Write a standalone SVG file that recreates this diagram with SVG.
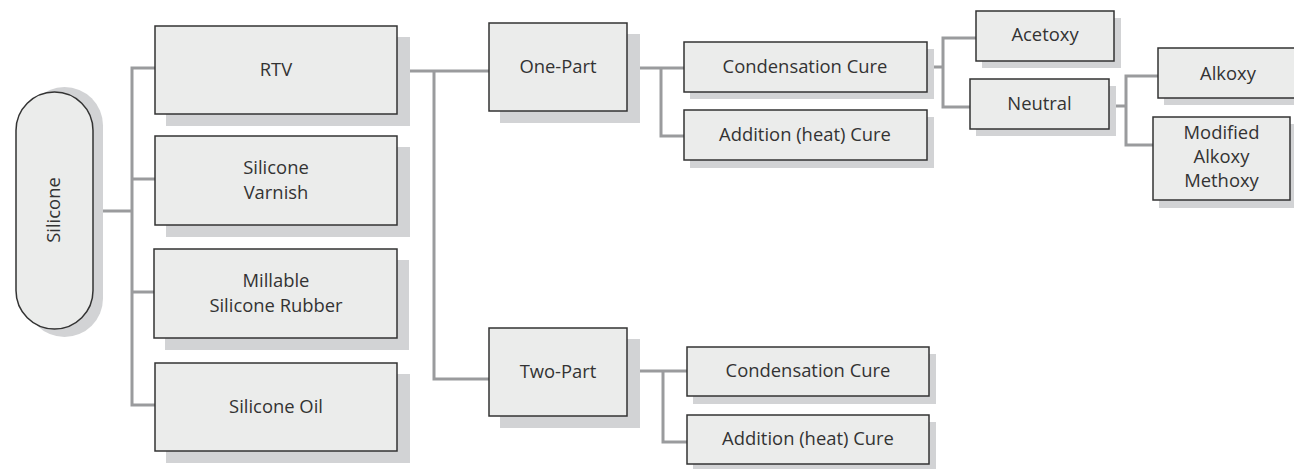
<svg xmlns="http://www.w3.org/2000/svg" width="1294" height="469" viewBox="0 0 1294 469">
<style>
.sh{fill:#d2d3d5}
.bx{fill:#ebeceb;stroke:#333;stroke-width:1.5}
.t{font-family:"Open Sans","Liberation Sans",sans-serif;font-size:18.4px;fill:#333;text-anchor:middle}
.c{fill:none;stroke:#9a9b9d;stroke-width:3}
</style>
<rect width="1294" height="469" fill="#fff"/>
<g id="connectors">
<path class="c" d="M103 211 H132 M155 68 H132 V405 H155 M132 179 H155 M132 292 H154"/>
<path class="c" d="M410 71 H489 M434 71 V379 H489"/>
<path class="c" d="M640 68 H684 M661 68 V136 H684"/>
<path class="c" d="M640 371 H687 M663 371 V442 H687"/>
<path class="c" d="M933 67 H943 M976 38 H943 V107 H970"/>
<path class="c" d="M1116 106 H1126 M1158 76 H1126 V145 H1153"/>
</g>
<g id="silicone">
<rect class="sh" x="26" y="87" width="77" height="250" rx="38.5"/>
<rect class="bx" x="16" y="92" width="77" height="237" rx="38.5"/>
<text class="t" transform="translate(60 210) rotate(-90)">Silicone</text>
</g>
<g id="rtv">
<rect class="sh" x="166" y="37" width="244" height="89"/>
<rect class="bx" x="155" y="26" width="242" height="88"/>
<text class="t" x="276" y="76">RTV</text>
</g>
<g id="varnish">
<rect class="sh" x="166" y="147" width="244" height="90"/>
<rect class="bx" x="155" y="136" width="242" height="89"/>
<text class="t" x="276" y="174">Silicone</text>
<text class="t" x="276" y="199">Varnish</text>
</g>
<g id="millable">
<rect class="sh" x="165" y="260" width="244" height="90"/>
<rect class="bx" x="154" y="249" width="243" height="89"/>
<text class="t" x="276" y="287">Millable</text>
<text class="t" x="276" y="312">Silicone Rubber</text>
</g>
<g id="oil">
<rect class="sh" x="166" y="374" width="244" height="89"/>
<rect class="bx" x="155" y="363" width="242" height="88"/>
<text class="t" x="276" y="413">Silicone Oil</text>
</g>
<g id="one-part">
<rect class="sh" x="500" y="34" width="140" height="89"/>
<rect class="bx" x="489" y="23" width="138" height="88"/>
<text class="t" x="558" y="73">One-Part</text>
</g>
<g id="two-part">
<rect class="sh" x="500" y="339" width="140" height="89"/>
<rect class="bx" x="489" y="328" width="138" height="88"/>
<text class="t" x="558" y="378">Two-Part</text>
</g>
<g id="cond1">
<rect class="sh" x="690" y="49" width="244" height="50"/>
<rect class="bx" x="684" y="42" width="243" height="50"/>
<text class="t" x="805" y="73">Condensation Cure</text>
</g>
<g id="add1">
<rect class="sh" x="690" y="117" width="244" height="51"/>
<rect class="bx" x="684" y="110" width="243" height="50"/>
<text class="t" x="805" y="141">Addition (heat) Cure</text>
</g>
<g id="cond2">
<rect class="sh" x="693" y="354" width="243" height="50"/>
<rect class="bx" x="687" y="347" width="242" height="49"/>
<text class="t" x="808" y="377">Condensation Cure</text>
</g>
<g id="add2">
<rect class="sh" x="693" y="422" width="243" height="50"/>
<rect class="bx" x="687" y="415" width="242" height="49"/>
<text class="t" x="808" y="445">Addition (heat) Cure</text>
</g>
<g id="acetoxy">
<rect class="sh" x="982" y="18" width="139" height="50"/>
<rect class="bx" x="976" y="11" width="138" height="50"/>
<text class="t" x="1045" y="41">Acetoxy</text>
</g>
<g id="neutral">
<rect class="sh" x="976" y="86" width="140" height="50"/>
<rect class="bx" x="970" y="79" width="139" height="50"/>
<text class="t" x="1039.5" y="110">Neutral</text>
</g>
<g id="alkoxy">
<rect class="sh" x="1164" y="55" width="140" height="50"/>
<rect class="bx" x="1158" y="48" width="140" height="50"/>
<text class="t" x="1228" y="80">Alkoxy</text>
</g>
<g id="modified">
<rect class="sh" x="1159" y="124" width="138" height="84"/>
<rect class="bx" x="1153" y="117" width="137" height="83"/>
<text class="t" x="1221.5" y="139">Modified</text>
<text class="t" x="1221.5" y="163">Alkoxy</text>
<text class="t" x="1221.5" y="187">Methoxy</text>
</g>
</svg>
